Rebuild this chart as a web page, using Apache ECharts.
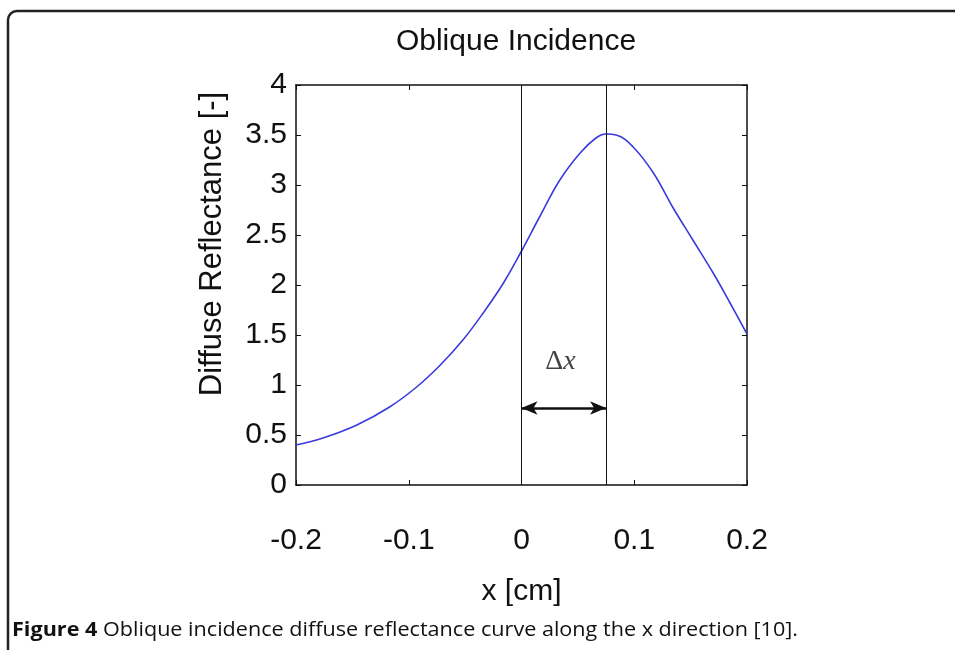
<!DOCTYPE html>
<html>
<head>
    <meta charset="utf-8">
    <title>Oblique Incidence</title>
    <style>
        html,body,#chart{
            height: 100%;
            width: 100%;
            padding: 0;
            margin: 0;
            background: #fff;
        }
    </style>
</head>
<body>
    <div id="chart"></div>
    <script src="https://cdn.jsdelivr.net/npm/echarts@6/dist/echarts.min.js"></script>
    <script>
        // curve
        var xs = [-0.2, -0.176, -0.146, -0.117, -0.093, -0.072, -0.052, -0.034, -0.016, 0, 0.016, 0.034, 0.052, 0.066, 0.075, 0.084, 0.099, 0.117, 0.134, 0.152, 0.17, 0.1845, 0.2];
        var ys = [0.40, 0.47, 0.60, 0.78, 0.98, 1.20, 1.45, 1.72, 2.02, 2.34, 2.68, 3.05, 3.32, 3.47, 3.51, 3.50, 3.38, 3.12, 2.78, 2.45, 2.12, 1.83, 1.51];
        var xTicks = [-0.2, -0.1, 0, 0.1, 0.2];
        var yTicks = [0, 0.5, 1, 1.5, 2, 2.5, 3, 3.5, 4];
        var markX = [0, 0.075];   // the two vertical lines
        var arrowY = 0.77;
        var deltaPos = [0.0345, 1.23];

        var curve = xs.map(function (x, i) { return [x, ys[i]]; });
        var font = 'Liberation Sans, Arial, sans-serif';
        var yMin = yTicks[0], yMax = yTicks[yTicks.length - 1];

        var chart = echarts.init(document.getElementById('chart'));

        function axisCommon(extra) {
            var a = {
                type: 'value',
                axisLine: { show: true, onZero: false, lineStyle: { color: '#111', width: 1.5 } },
                axisTick: { show: true, inside: true, length: 5, lineStyle: { color: '#111', width: 1 } },
                splitLine: { show: false }
            };
            for (var k in extra) a[k] = extra[k];
            return a;
        }

        var option = {
            animation: false,
            title: {
                text: 'Oblique Incidence',
                left: 511, top: 22, textAlign: 'center',
                textStyle: { fontFamily: font, fontSize: 30, fontWeight: 'normal', color: '#111' }
            },
            grid: { left: 296, top: 85, width: 451, height: 400 },
            xAxis: [
                axisCommon({
                    position: 'bottom', min: xTicks[0], max: xTicks[xTicks.length - 1], interval: 0.1,
                    axisLabel: { fontFamily: font, fontSize: 30, color: '#111', margin: 41 },
                    name: 'x [cm]', nameLocation: 'middle', nameGap: 92,
                    nameTextStyle: { fontFamily: font, fontSize: 30, color: '#111' }
                }),
                axisCommon({
                    position: 'top', min: xTicks[0], max: xTicks[xTicks.length - 1], interval: 0.1,
                    axisLabel: { show: false }
                })
            ],
            yAxis: [
                axisCommon({
                    position: 'left', min: yMin, max: yMax, interval: 0.5,
                    axisLabel: { fontFamily: font, fontSize: 30, color: '#111', margin: 9 }
                }),
                axisCommon({
                    position: 'right', min: yMin, max: yMax, interval: 0.5,
                    axisLabel: { show: false }
                })
            ],
            graphic: [
                {
                    type: 'rect', silent: true,
                    shape: { x: 8, y: 11, width: 1200, height: 900, r: [9, 0, 0, 0] },
                    style: { fill: 'none', stroke: '#222', lineWidth: 2.5 }
                },
                {
                    type: 'text', x: 212, y: 244, rotation: Math.PI / 2,
                    style: {
                        text: 'Diffuse Reflectance [-]', fontFamily: font, fontSize: 31,
                        fill: '#111', align: 'center', verticalAlign: 'middle'
                    }
                },
                {
                    type: 'text', x: 12, y: 630, scaleX: 1.08,
                    style: {
                        text: '{b|Figure 4}{n| Oblique incidence diffuse reflectance curve along the x direction [10].}',
                        verticalAlign: 'middle',
                        rich: {
                            b: { fontFamily: 'Open Sans', fontWeight: 'bold', fontSize: 20, fill: '#111' },
                            n: { fontFamily: 'Open Sans', fontSize: 20, fill: '#111' }
                        }
                    }
                }
            ],
            series: [
                {
                    type: 'line',
                    data: curve,
                    smooth: 0.4,
                    showSymbol: false,
                    lineStyle: { color: '#3b3bdc', width: 1.6 },
                    z: 3,
                    markLine: {
                        silent: true,
                        symbol: ['none', 'none'],
                        label: { show: false },
                        lineStyle: { color: '#111', width: 1, type: 'solid' },
                        data: [
                            [{ coord: [markX[0], yMin] }, { coord: [markX[0], yMax] }],
                            [{ coord: [markX[1], yMin] }, { coord: [markX[1], yMax] }],
                            [
                                { coord: [markX[0], arrowY], symbol: 'arrow', symbolSize: [10, 16] },
                                { coord: [markX[1], arrowY], symbol: 'arrow', symbolSize: [10, 16], lineStyle: { width: 2.5 } }
                            ]
                        ]
                    }
                },
                {
                    type: 'scatter',
                    data: [deltaPos],
                    symbolSize: 0,
                    silent: true,
                    label: {
                        show: true, position: 'inside',
                        formatter: '{d|\u0394}{x|x}',
                        rich: {
                            d: { fontFamily: 'Liberation Serif, serif', fontSize: 28, color: '#111' },
                            x: { fontFamily: 'Liberation Serif, serif', fontStyle: 'italic', fontSize: 28, color: '#111' }
                        }
                    }
                }
            ]
        };

        chart.setOption(option);
    </script>
</body>
</html>
